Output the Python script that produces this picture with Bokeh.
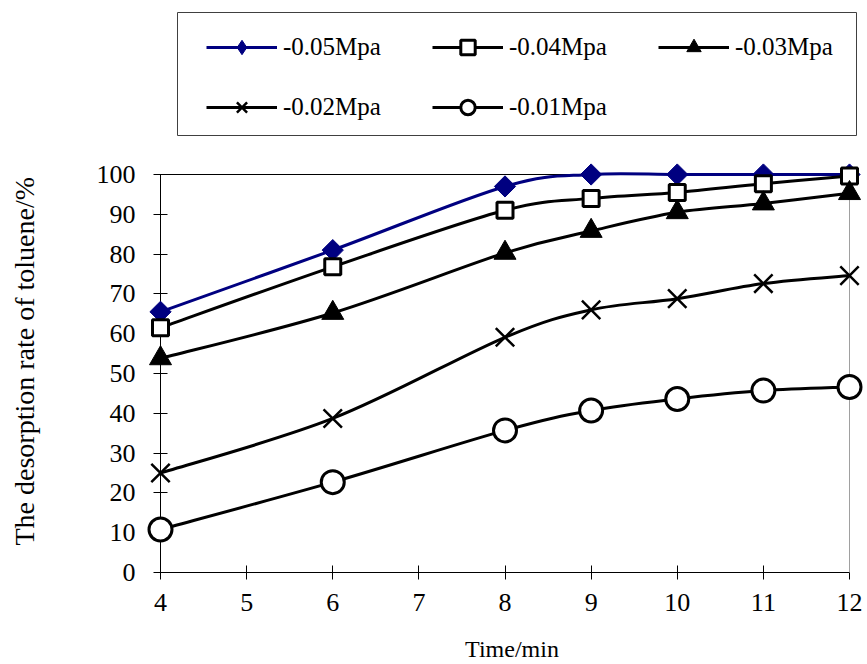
import numpy as np
from bokeh.plotting import figure
from bokeh.models import (Range1d, FixedTicker, Legend, LegendItem, LinearAxis,
                          Title, BoxAnnotation)
from bokeh.embed import file_html
from bokeh.resources import INLINE

# ---------------- data ----------------
time_min = [4, 6, 8, 9, 10, 11, 12]
rate_005 = [65.5, 81.0, 97.0, 100.0, 100.0, 100.0, 100.0]
rate_004 = [61.5, 76.8, 91.0, 94.0, 95.5, 97.7, 99.6]
rate_003 = [53.8, 65.2, 80.3, 85.8, 90.5, 92.7, 95.3]
rate_002 = [25.0, 38.7, 59.1, 66.0, 68.8, 72.6, 74.6]
rate_001 = [10.8, 22.7, 35.7, 40.7, 43.6, 45.7, 46.6]
series_labels = ["-0.05Mpa", "-0.04Mpa", "-0.03Mpa", "-0.02Mpa", "-0.01Mpa"]
x_ticks = [4, 5, 6, 7, 8, 9, 10, 11, 12]
y_ticks = [0, 10, 20, 30, 40, 50, 60, 70, 80, 90, 100]
x_title = "Time/min"
y_title = "The desorption rate of toluene/%"

FONT = "Liberation Serif"

# ---------------- layout (pixels) ----------------
W, H = 867, 664
B_LEFT, B_RIGHT, B_TOP, B_BOTTOM = 160, 4, 4, 92
AXIS_W = 689      # pixel length of the x axis (4 .. 12)
AXIS_H = 398      # pixel length of the y axis (0 .. 100)
frame_w = W - B_LEFT - B_RIGHT
frame_h = H - B_TOP - B_BOTTOM
x0, x1 = x_ticks[0], x_ticks[-1]
y0, y1 = y_ticks[0], y_ticks[-1]
x_end = x0 + (x1 - x0) * frame_w / AXIS_W
y_end = y0 + (y1 - y0) * frame_h / AXIS_H


def px_to_x(px):   # page pixel -> data x
    return x0 + (px - B_LEFT) * (x1 - x0) / AXIS_W


def py_to_y(py):   # page pixel -> data y
    return y0 + (H - B_BOTTOM - py) * (y1 - y0) / AXIS_H


p = figure(width=W, height=H, output_backend="svg", toolbar_location=None,
           x_range=Range1d(x0, x_end), y_range=Range1d(y0, y_end),
           min_border_left=B_LEFT, min_border_right=B_RIGHT,
           min_border_top=B_TOP, min_border_bottom=B_BOTTOM)
p.grid.visible = False
p.outline_line_color = None
p.background_fill_color = "white"
p.border_fill_color = "white"

for ax in (p.xaxis[0], p.yaxis[0]):
    ax.axis_line_color = None
    ax.major_tick_line_color = "black"
    ax.major_tick_in = 7
    ax.major_tick_out = 7
    ax.minor_tick_line_color = None
    ax.major_label_text_font = FONT
    ax.major_label_text_font_size = "26px"
    ax.major_label_text_color = "black"
    ax.axis_label_text_font = FONT
    ax.axis_label_text_font_style = "normal"
    ax.axis_label_text_color = "black"

p.xaxis.ticker = FixedTicker(ticks=x_ticks)
p.yaxis.ticker = FixedTicker(ticks=y_ticks)
p.xaxis.axis_label = x_title
p.xaxis.axis_label_text_font_size = "24px"
p.xaxis.major_label_standoff = 14
p.yaxis.major_label_standoff = 18
p.xaxis.axis_label_standoff = 22

# blank spacer axis on the left (pushes the y title outward), then the y title
spacer = LinearAxis(ticker=FixedTicker(ticks=[y_ticks[5]]),
                    major_label_overrides={y_ticks[5]: ""},
                    axis_line_color=None, major_tick_line_color=None,
                    minor_tick_line_color=None, major_tick_in=0, major_tick_out=54,
                    major_label_standoff=0, major_label_text_font_size="1px",
                    major_label_text_alpha=0.0)
p.add_layout(spacer, "left")
p.add_layout(Title(text=y_title, align="left", offset=27, vertical_align="bottom",
                   standoff=0, text_font=FONT, text_font_size="28px",
                   text_font_style="normal", text_color="black"), "left")

# plot-area border lines: axes (black), top (black), right (grey)
p.segment(x0=[x0, x0, x0], y0=[y0, y0, y1], x1=[x1, x0, x1], y1=[y0, y1, y1],
          line_color="black", line_width=1, level="overlay")
p.segment(x0=[x1], y0=[y0], x1=[x1], y1=[y1],
          line_color="#a0a0a0", line_width=1, level="overlay")


def smooth_segments(xs, ys):
    xs = np.asarray(xs, float)
    ys = np.asarray(ys, float)
    n = len(xs)
    xp = np.concatenate([[xs[0]], xs, [xs[-1]]])
    yp = np.concatenate([[ys[0]], ys, [ys[-1]]])
    cx0 = xp[1:n] + (xp[2:n + 1] - xp[0:n - 1]) / 6.0
    cy0 = yp[1:n] + (yp[2:n + 1] - yp[0:n - 1]) / 6.0
    cx1 = xp[2:n + 1] - (xp[3:n + 2] - xp[1:n]) / 6.0
    cy1 = yp[2:n + 1] - (yp[3:n + 2] - yp[1:n]) / 6.0
    return dict(x0=xs[:-1], y0=ys[:-1], x1=xs[1:], y1=ys[1:],
                cx0=cx0, cy0=cy0, cx1=cx1, cy1=cy1)


styles = [
    dict(color="#000080", marker="square", size=15, angle=np.pi / 4,
         fill="#000080", lw=1),
    dict(color="black", marker="square", size=16, angle=0, fill="white", lw=3),
    dict(color="black", marker="triangle", size=22, angle=0, fill="black", lw=1),
    dict(color="black", marker="x", size=26, angle=0, fill=None, lw=2.5),
    dict(color="black", marker="circle", size=23, angle=0, fill="white", lw=3),
]
series = [rate_005, rate_004, rate_003, rate_002, rate_001]

items = []
for k, (lab, ys, st) in enumerate(zip(series_labels, series, styles)):
    seg = smooth_segments(time_min, ys)
    br = p.bezier(x0=seg["x0"], y0=seg["y0"], x1=seg["x1"], y1=seg["y1"],
                  cx0=seg["cx0"], cy0=seg["cy0"], cx1=seg["cx1"], cy1=seg["cy1"],
                  line_color=st["color"], line_width=3, level="overlay")
    legend_marker = None
    if k == 0:
        # diamond shape used for the legend entry (hidden under the rotated square)
        legend_marker = p.scatter(x=time_min, y=ys, marker="diamond", size=16,
                                  fill_color=st["fill"], line_color=st["color"],
                                  level="overlay")
    sr = p.scatter(x=time_min, y=ys, marker=st["marker"], size=st["size"],
                   angle=st["angle"], fill_color=st["fill"],
                   line_color=st["color"], line_width=st["lw"], level="overlay")
    items.append(LegendItem(label=lab, renderers=[br, legend_marker or sr]))

# legend frame
p.add_layout(BoxAnnotation(left=px_to_x(177), right=px_to_x(856),
                           top=py_to_y(12), bottom=py_to_y(135),
                           fill_color="white", fill_alpha=1.0,
                           line_color="#404040", line_width=1, line_alpha=1.0))

ITEM_H = 36
legend_kw = dict(orientation="horizontal",
                 label_text_font=FONT, label_text_font_size="25px",
                 label_text_color="black",
                 glyph_width=71, glyph_height=ITEM_H, label_height=ITEM_H,
                 label_width=100, label_standoff=6, spacing=49, padding=0,
                 margin=0, border_line_color=None, background_fill_alpha=0.0)
p.add_layout(Legend(items=items[:3],
                    location=(206 - B_LEFT, H - B_BOTTOM - 47 - ITEM_H // 2),
                    **legend_kw))
p.add_layout(Legend(items=items[3:],
                    location=(206 - B_LEFT, H - B_BOTTOM - 107 - ITEM_H // 2),
                    **legend_kw))

open("out.html", "w").write(file_html(p, INLINE))
